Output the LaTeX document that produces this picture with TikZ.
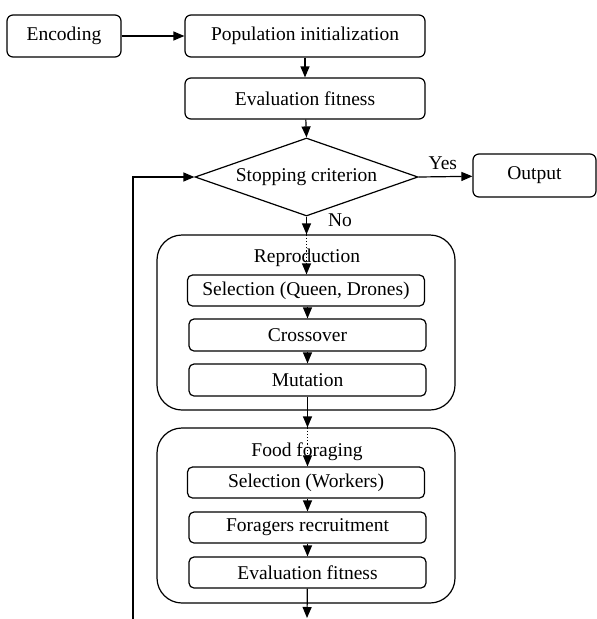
\documentclass[tikz,border=0pt]{standalone}
\usepackage{fontspec}
\setmainfont{Liberation Serif}
\usetikzlibrary{shapes.geometric,arrows.meta}
\tikzset{
  stagebox/.style={draw,rounded corners=6pt,minimum height=42pt,inner sep=2pt},
  substage/.style={draw,rounded corners=5pt,minimum width=237pt,minimum height=31pt,inner sep=1pt},
  groupbox/.style={draw,rounded corners=25pt,minimum width=298pt,minimum height=175pt},
  decision/.style={draw,diamond,aspect=2.86,minimum width=223pt,minimum height=78pt,inner sep=1pt},
}
\begin{document}
\begin{tikzpicture}[x=1pt,y=-1pt,>={Triangle[length=11pt,width=9pt]},line width=1.2pt,
  font=\fontsize{19.5}{23}\selectfont]
  \useasboundingbox (0,0) rectangle (597,619);
  % top row
  \node[stagebox,minimum width=114pt] (enc) at (64,36) {Encoding};
  \node[stagebox,minimum width=240pt] (popinit) at (305,36) {Population initialization};
  \node[stagebox,minimum width=240pt,minimum height=41pt] (evalfit) at (305,98.5) {Evaluation fitness};
  \node[decision] (stop) at (306.5,177) {Stopping criterion};
  \node[stagebox,minimum width=123pt,minimum height=43pt] (outbox) at (534.5,175.5) {Output};
  % reproduction
  \node[groupbox] (repro) at (306,322.5) {};
  \node (reprolabel) at (307,258) {Reproduction};
  \node[substage] (selqd) at (306,290.5) {Selection (Queen, Drones)};
  \node[substage,minimum height=32pt] (cross) at (307.5,335) {Crossover};
  \node[substage,minimum height=32pt] (mut) at (307.5,380) {Mutation};
  % food foraging
  \node[groupbox] (food) at (306,515.5) {};
  \node (foodlabel) at (307,452) {Food foraging};
  \node[substage] (selw) at (306,482.5) {Selection (Workers)};
  \node[substage] (forag) at (307.5,527.5) {Foragers recruitment};
  \node[substage] (evalfitb) at (307.5,572.5) {Evaluation fitness};
  \coordinate (down) at (307,618);
  \coordinate (back) at (133,619);
  % connectors
  \draw[->] (enc) -- (popinit);
  \draw[->] (popinit) -- (evalfit);
  \draw[->] (evalfit) -- (stop.north);
  \draw[->] (stop.east) -- node[above=3pt,pos=0.45] {Yes} (outbox);
  \draw[->] (stop.south) -- (stop.south |- repro.north);
  \node (no) at (340,220) {No};
  \draw[dotted,->] (stop.south |- repro.north) -- (stop.south |- selqd.north);
  \draw[->] (selqd.south -| cross.north) -- (cross);
  \draw[->] (cross) -- (mut);
  \draw[->] (mut) -- (mut.south |- food.north);
  \draw[dotted,->] (mut.south |- food.north) -- (mut.south |- selw.north);
  \draw[->] (selw.south -| forag.north) -- (forag);
  \draw[->] (forag) -- (evalfitb);
  \draw[->] (evalfitb) -- (down);
  \draw[->] (back) |- (stop.west);
\end{tikzpicture}
\end{document}
